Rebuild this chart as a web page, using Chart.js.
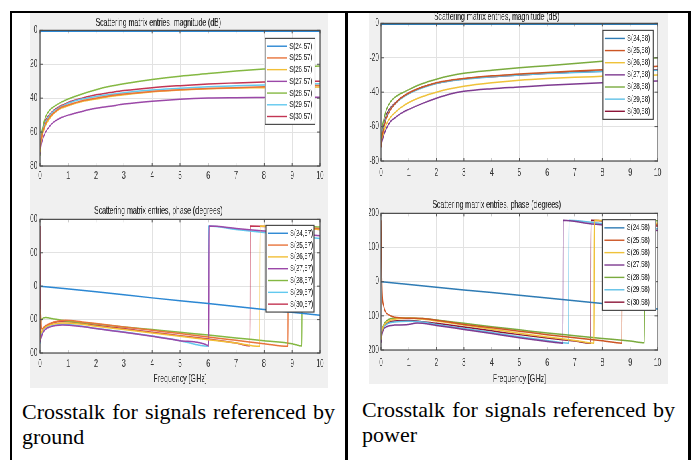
<!DOCTYPE html>
<html><head><meta charset="utf-8">
<script src="https://cdn.jsdelivr.net/npm/chart.js@4.4.0/dist/chart.umd.min.js"></script>
<style>
html,body{margin:0;padding:0;background:#fff;width:692px;height:460px;overflow:hidden;position:relative;}
.b{position:absolute;background:#000;}
.fig{position:absolute;background:#f0f0f0;overflow:hidden;}
.inner{position:absolute;left:0;top:0;width:700px;height:400px;transform:scaleX(0.67);transform-origin:0 0;}
.inner canvas{position:absolute;}
.cap{position:absolute;font-family:"Liberation Serif","Times New Roman",serif;font-size:22px;line-height:25px;text-align:justify;text-align-last:left;color:#000;}
</style></head><body>
<div class="b" style="left:10px;top:11px;width:681px;height:2px"></div>
<div class="b" style="left:10px;top:11px;width:2px;height:449px"></div>
<div class="b" style="left:345px;top:11px;width:3px;height:449px"></div>
<div class="b" style="left:688px;top:11px;width:3px;height:449px"></div>

<div class="fig" style="left:30px;top:13px;width:298px;height:375px">
  <div class="inner">
    <canvas id="cTL" width="548" height="175" style="left:-50px;top:0px;width:548px;height:175px"></canvas>
    <canvas id="cBL" width="548" height="189" style="left:-50px;top:186px;width:548px;height:189px"></canvas>
  </div>
</div>
<div class="fig" style="left:369px;top:13px;width:299px;height:371px">
  <div class="inner">
    <canvas id="cTR" width="549" height="184" style="left:-50px;top:-6px;width:549px;height:184px"></canvas>
    <canvas id="cBR" width="549" height="195" style="left:-50px;top:180px;width:549px;height:195px"></canvas>
  </div>
</div>

<div class="cap" style="left:22px;top:399px;width:313px">Crosstalk for signals referenced by ground</div>
<div class="cap" style="left:362px;top:397px;width:313px">Crosstalk for signals referenced by power</div>

<script>
// ---------- data ----------
const xTicks = [0,1,2,3,4,5,6,7,8,9,10];
const magTicks = [-80,-60,-40,-20,0];
const phaseTicks = [-200,-100,0,100,200];

const labelsGround = ['S(24,57)','S(25,57)','S(26,57)','S(27,57)','S(28,57)','S(29,57)','S(30,57)'];
const labelsPower  = ['S(24,58)','S(25,58)','S(26,58)','S(27,58)','S(28,58)','S(29,58)','S(30,58)'];

const freqMag = [0,0.05,0.1,0.2,0.35,0.5,0.75,1,1.5,2,2.5,3,4,5,6,7,8,9,10];

// magnitude (dB), referenced by ground
const mag_S24_57 = [-0.5,-0.5,-0.5,-0.5,-0.5,-0.5,-0.5,-0.5,-0.5,-0.5,-0.5,-0.5,-0.5,-0.5,-0.5,-0.5,-0.5,-0.5,-0.5];
const mag_S25_57 = [-70,-64,-60,-55,-51,-48.5,-45.5,-44,-41.5,-40,-38.5,-37.5,-36,-35,-34.3,-33.8,-33.3,-32.8,-32.5];
const mag_S26_57 = [-72,-65,-61,-56,-52,-49,-46,-44.5,-42,-40.5,-39,-38,-36.2,-35.2,-34.5,-34,-33.8,-33.6,-33.4];
const mag_S27_57 = [-73,-67,-64,-60,-56.5,-54,-51.5,-50,-47.8,-46,-44.8,-43.5,-41.8,-40.6,-39.9,-39.7,-39.6,-39.5,-39.5];
const mag_S28_57 = [-74,-62,-57,-51,-47,-45,-42.5,-40.5,-37.5,-35,-33,-31.5,-29,-27,-25.5,-24,-22.8,-21.8,-21];
const mag_S29_57 = [-71,-63,-59,-54,-50,-47.5,-45,-43,-40.5,-39,-37.8,-36.8,-35.2,-34.2,-33.3,-32.7,-32.2,-31.8,-31.5];
const mag_S30_57 = [-68,-62,-58,-53,-49.5,-47,-44.5,-42.5,-40,-38,-36.7,-35.5,-33.8,-32.6,-31.6,-31,-30.5,-30.2,-30];

// magnitude (dB), referenced by power
const mag_S24_58 = [-0.5,-0.5,-0.5,-0.5,-0.5,-0.5,-0.5,-0.5,-0.5,-0.5,-0.5,-0.5,-0.5,-0.5,-0.5,-0.5,-0.5,-0.5,-0.5];
const mag_S25_58 = [-72,-65,-61,-55,-50,-47,-43,-40.5,-37,-34.5,-33,-32,-30.5,-29.5,-28.5,-27.7,-27,-26,-25];
const mag_S26_58 = [-70,-66,-63,-58.5,-54.5,-52,-48.5,-46,-42.5,-40,-38,-36.5,-34.5,-33,-32,-31.3,-30.8,-30.3,-30];
const mag_S27_58 = [-72,-68,-65,-61,-57,-55,-52,-50,-46.5,-43.5,-41,-39.5,-38,-37,-36,-35.2,-34.5,-34,-33.5];
const mag_S28_58 = [-68,-60,-56,-50,-45.5,-43,-40.5,-38.5,-35,-32.5,-30.5,-29,-27.3,-25.8,-24.6,-23.3,-22,-21,-20];
const mag_S29_58 = [-71,-63,-60,-54,-49.5,-47,-43.5,-41,-37.5,-35,-33.5,-32.5,-31,-30,-29.2,-28.6,-28,-27.6,-27.3];
const mag_S30_58 = [-70,-62,-59,-53,-49,-46.5,-43,-40.5,-37,-34.8,-33.3,-32.3,-31,-30,-29,-28.3,-27.8,-27.3,-27];

// phase (degrees) [frequency GHz, degrees], referenced by ground
const ph_S24_57 = [[0,0],[2,-17],[4,-35],[6,-52],[8,-70],[10,-87]];
const ph_S25_57 = [[0,-160],[0.02,-70],[0.06,-128],[0.2,-118],[0.5,-107],[0.9,-102],[1.5,-107],[2,-112],[3,-122],[4,-132],[5,-142],[6,-152],[7,-162],[8,-172],[8.85,-180],[8.86,180],[9.5,176],[10,172]];
const ph_S26_57 = [[0,-150],[0.1,-130],[0.4,-115],[0.8,-110],[1.5,-114],[2,-120],[3,-130],[4,-140],[5,-150],[6,-160],[7,-170],[7.85,-180],[7.86,180],[9,176],[10,170]];
const ph_S27_57 = [[0,-168],[0.1,-140],[0.4,-121],[0.8,-116],[1.5,-121],[2,-127],[3,-138],[4,-150],[5,-163],[6,-178],[6.02,-180],[6.03,180],[7,173],[8,165],[9,158],[10,151]];
const ph_S28_57 = [[0,-150],[0.05,-100],[0.2,-94],[0.5,-98],[1,-105],[2,-113],[3,-122],[4,-130],[5,-138],[6,-146],[7,-155],[8,-163],[9,-172],[9.35,-179],[9.36,180],[10,177]];
const ph_S29_57 = [[0,-172],[0.1,-132],[0.4,-119],[0.8,-114],[1.5,-120],[2,-127],[3,-137],[4,-149],[5,-163],[6,-180],[6.01,180],[7,170],[8,161],[9,152],[10,143]];
const ph_S30_57 = [[0,180],[0.01,-140],[0.2,-121],[0.5,-109],[0.8,-106],[1.5,-111],[2,-117],[3,-127],[4,-138],[5,-148],[6,-158],[7,-170],[7.5,-178],[7.51,180],[8.5,177],[9,175],[10,170]];

// phase (degrees), referenced by power
const ph_S24_58 = [[0,0],[2,-16],[4,-32],[6,-48],[8,-64],[10,-80]];
const ph_S25_58 = [[0,180],[0.02,60],[0.05,-40],[0.1,-72],[0.15,-86],[0.3,-98],[0.5,-104],[1,-107],[1.5,-108],[2,-113],[3,-125],[4,-135],[5,-145],[6,-155],[7,-164],[8,-173],[8.7,-180],[8.71,180],[9.5,171],[10,166]];
const ph_S26_58 = [[0,-170],[0.05,-140],[0.2,-120],[0.5,-110],[1,-107],[1.5,-109],[2,-115],[3,-127],[4,-139],[5,-151],[6,-162],[7,-172],[7.7,-180],[7.71,180],[8.5,177],[10,171]];
const ph_S27_58 = [[0,-178],[0.05,-150],[0.2,-132],[0.5,-127],[0.9,-126],[1.3,-121],[2,-128],[3,-140],[4,-152],[5,-164],[6,-175],[6.57,-180],[6.58,180],[7.5,170],[8.5,162],[10,150]];
const ph_S28_58 = [[0,-175],[0.05,-140],[0.2,-115],[0.5,-107],[1,-106],[1.5,-108],[2,-112],[3,-122],[4,-132],[5,-141],[6,-150],[7,-158],[8,-166],[9,-174],[9.52,-179],[9.53,180],[10,178]];
const ph_S29_58 = [[0,-175],[0.05,-145],[0.2,-125],[0.5,-118],[1,-116],[1.5,-118],[2,-125],[3,-137],[4,-149],[5,-161],[6,-172],[6.78,-180],[6.79,180],[8,170],[9,162],[10,155]];
const ph_S30_58 = [[0,-178],[0.05,-140],[0.2,-122],[0.5,-115],[1,-114],[1.5,-117],[2,-122],[3,-133],[4,-144],[5,-155],[6,-165],[7,-174],[7.58,-180],[7.59,180],[8.5,174],[10,163]];

// ---------- styling ----------
const colorsGround = ['#2b87d3','#e8743b','#f2bf37','#9b48a8','#84b842','#62c9ef','#c33553'];
const colorsPower  = ['#2e7bb4','#cc5524','#efc23a','#7e3a90','#7aab3e','#5fc0e6','#8c1538'];
const FONT = '"Liberation Sans", Arial, Helvetica, sans-serif';
const GRID = '#e2e2e2';

const magPts = arr => freqMag.map((f, i) => ({x: f, y: arr[i]}));
const phPts = arr => arr.map(p => ({x: p[0], y: p[1]}));

const matlabPlugin = {
  id: 'matlab',
  beforeDraw(chart) {
    const {ctx, chartArea: a} = chart;
    ctx.save();
    ctx.fillStyle = '#ffffff';
    ctx.fillRect(a.left, a.top, a.right - a.left, a.bottom - a.top);
    ctx.restore();
  },
  afterDraw(chart, args, opts) {
    const {ctx, chartArea: a, scales} = chart;
    ctx.save();
    ctx.strokeStyle = '#555';
    ctx.lineWidth = 1;
    ctx.beginPath();
    scales.x.ticks.forEach(t => {
      const px = scales.x.getPixelForValue(t.value);
      ctx.moveTo(px, a.bottom); ctx.lineTo(px, a.bottom - 3);
      ctx.moveTo(px, a.top); ctx.lineTo(px, a.top + 3);
    });
    scales.y.ticks.forEach(t => {
      const py = scales.y.getPixelForValue(t.value);
      ctx.moveTo(a.left, py); ctx.lineTo(a.left + 4.5, py);
      ctx.moveTo(a.right, py); ctx.lineTo(a.right - 4.5, py);
    });
    ctx.stroke();
    ctx.strokeStyle = '#4a4a4a';
    ctx.lineWidth = 1.2;
    ctx.strokeRect(a.left, a.top, a.right - a.left, a.bottom - a.top);
    const L = opts.box;
    if (L) {
      const bx = a.right - L.r - L.w, by = a.top + L.t;
      ctx.fillStyle = '#fff';
      ctx.fillRect(bx, by, L.w, L.h);
      ctx.strokeStyle = '#3c3c3c';
      ctx.lineWidth = 1.1;
      ctx.strokeRect(bx, by, L.w, L.h);
      const ds = chart.data.datasets;
      const rowH = (L.h - 4) / ds.length;
      ds.forEach((d, i) => {
        const cy = by + 2 + rowH * (i + 0.5);
        ctx.strokeStyle = d.borderColor;
        ctx.lineWidth = 1.4;
        ctx.beginPath(); ctx.moveTo(bx + 3, cy); ctx.lineTo(bx + 33, cy); ctx.stroke();
        ctx.fillStyle = '#222';
        ctx.font = '9px ' + FONT;
        ctx.textBaseline = 'middle';
        ctx.textAlign = 'left';
        ctx.fillText(d.label, bx + 36, cy);
      });
    }
    ctx.restore();
  }
};

function mkChart(id, o) {
  return new Chart(document.getElementById(id), {
    type: 'line',
    data: {
      datasets: o.series.map((d, i) => ({
        label: o.labels[i], data: d,
        borderColor: o.colors[i], backgroundColor: o.colors[i],
        borderWidth: 1.5, pointRadius: 0, fill: false,
        cubicInterpolationMode: 'monotone'
      }))
    },
    options: {
      responsive: false, animation: false, devicePixelRatio: 1,
      layout: {padding: {left: 0, right: o.yW, top: 0, bottom: 0}},
      plugins: {
        legend: {display: false},
        tooltip: {enabled: false},
        title: {display: true, text: o.title, color: '#1a1a1a',
          font: {family: FONT, size: 10.3, weight: 'normal', lineHeight: 1.2},
          padding: {top: o.tPadT, bottom: o.tPadB}},
        matlab: {box: o.box}
      },
      scales: {
        x: {
          type: 'linear', min: 0, max: 10,
          afterBuildTicks: s => { s.ticks = xTicks.map(v => ({value: v})); },
          afterFit: s => { s.height = o.xH; },
          grid: {color: GRID, drawTicks: false},
          border: {display: false},
          ticks: {font: {family: FONT, size: 10}, color: '#333', padding: o.xPad, maxRotation: 0, autoSkip: false},
          title: o.xTitle ? {display: true, text: o.xTitle, color: '#222',
            font: {family: FONT, size: 10.5, lineHeight: 1.2}, padding: {top: 0, bottom: 3}} : {display: false}
        },
        y: {
          type: 'linear', min: o.yMin, max: o.yMax,
          afterBuildTicks: s => { s.ticks = o.yTicks.map(v => ({value: v})); },
          afterFit: s => { s.width = o.yW; },
          grid: {color: GRID, drawTicks: false},
          border: {display: false},
          ticks: {font: {family: FONT, size: 10}, color: '#333', padding: o.yPad, autoSkip: false}
        }
      }
    },
    plugins: [matlabPlugin]
  });
}

const magTitle = 'Scattering matrix entries, magnitude (dB)';
const phTitle = 'Scattering matrix entries, phase (degrees)';
const freqTitle = 'Frequency [GHz]';

mkChart('cTL', {
  labels: labelsGround, colors: colorsGround, title: magTitle,
  series: [mag_S24_57, mag_S25_57, mag_S26_57, mag_S27_57, mag_S28_57, mag_S29_57, mag_S30_57].map(magPts),
  yMin: -80, yMax: 0, yTicks: magTicks, yW: 65, yPad: 4,
  tPadT: 4, tPadB: 1, xH: 22, xPad: 4,
  box: {r: 7.5, t: 8, w: 74.6, h: 86}
});
mkChart('cBL', {
  labels: labelsGround, colors: colorsGround, title: phTitle, xTitle: freqTitle,
  series: [ph_S24_57, ph_S25_57, ph_S26_57, ph_S27_57, ph_S28_57, ph_S29_57, ph_S30_57].map(phPts),
  yMin: -200, yMax: 200, yTicks: phaseTicks, yW: 65, yPad: 4,
  tPadT: 6, tPadB: 2, xH: 35, xPad: 5,
  box: {r: 9, t: 6, w: 72, h: 86.7}
});
mkChart('cTR', {
  labels: labelsPower, colors: colorsPower, title: magTitle,
  series: [mag_S24_58, mag_S25_58, mag_S26_58, mag_S27_58, mag_S28_58, mag_S29_58, mag_S30_58].map(magPts),
  yMin: -80, yMax: 0, yTicks: magTicks, yW: 68, yPad: 3,
  tPadT: 3.5, tPadB: 0.5, xH: 30, xPad: 6,
  box: {r: 6.7, t: 7, w: 75.4, h: 89}
});
mkChart('cBR', {
  labels: labelsPower, colors: colorsPower, title: phTitle, xTitle: freqTitle,
  series: [ph_S24_58, ph_S25_58, ph_S26_58, ph_S27_58, ph_S28_58, ph_S29_58, ph_S30_58].map(phPts),
  yMin: -200, yMax: 200, yTicks: phaseTicks, yW: 68, yPad: 3,
  tPadT: 6, tPadB: 2, xH: 38, xPad: 7,
  box: {r: 3, t: 6.3, w: 79.6, h: 90.7}
});
</script>
</body></html>
